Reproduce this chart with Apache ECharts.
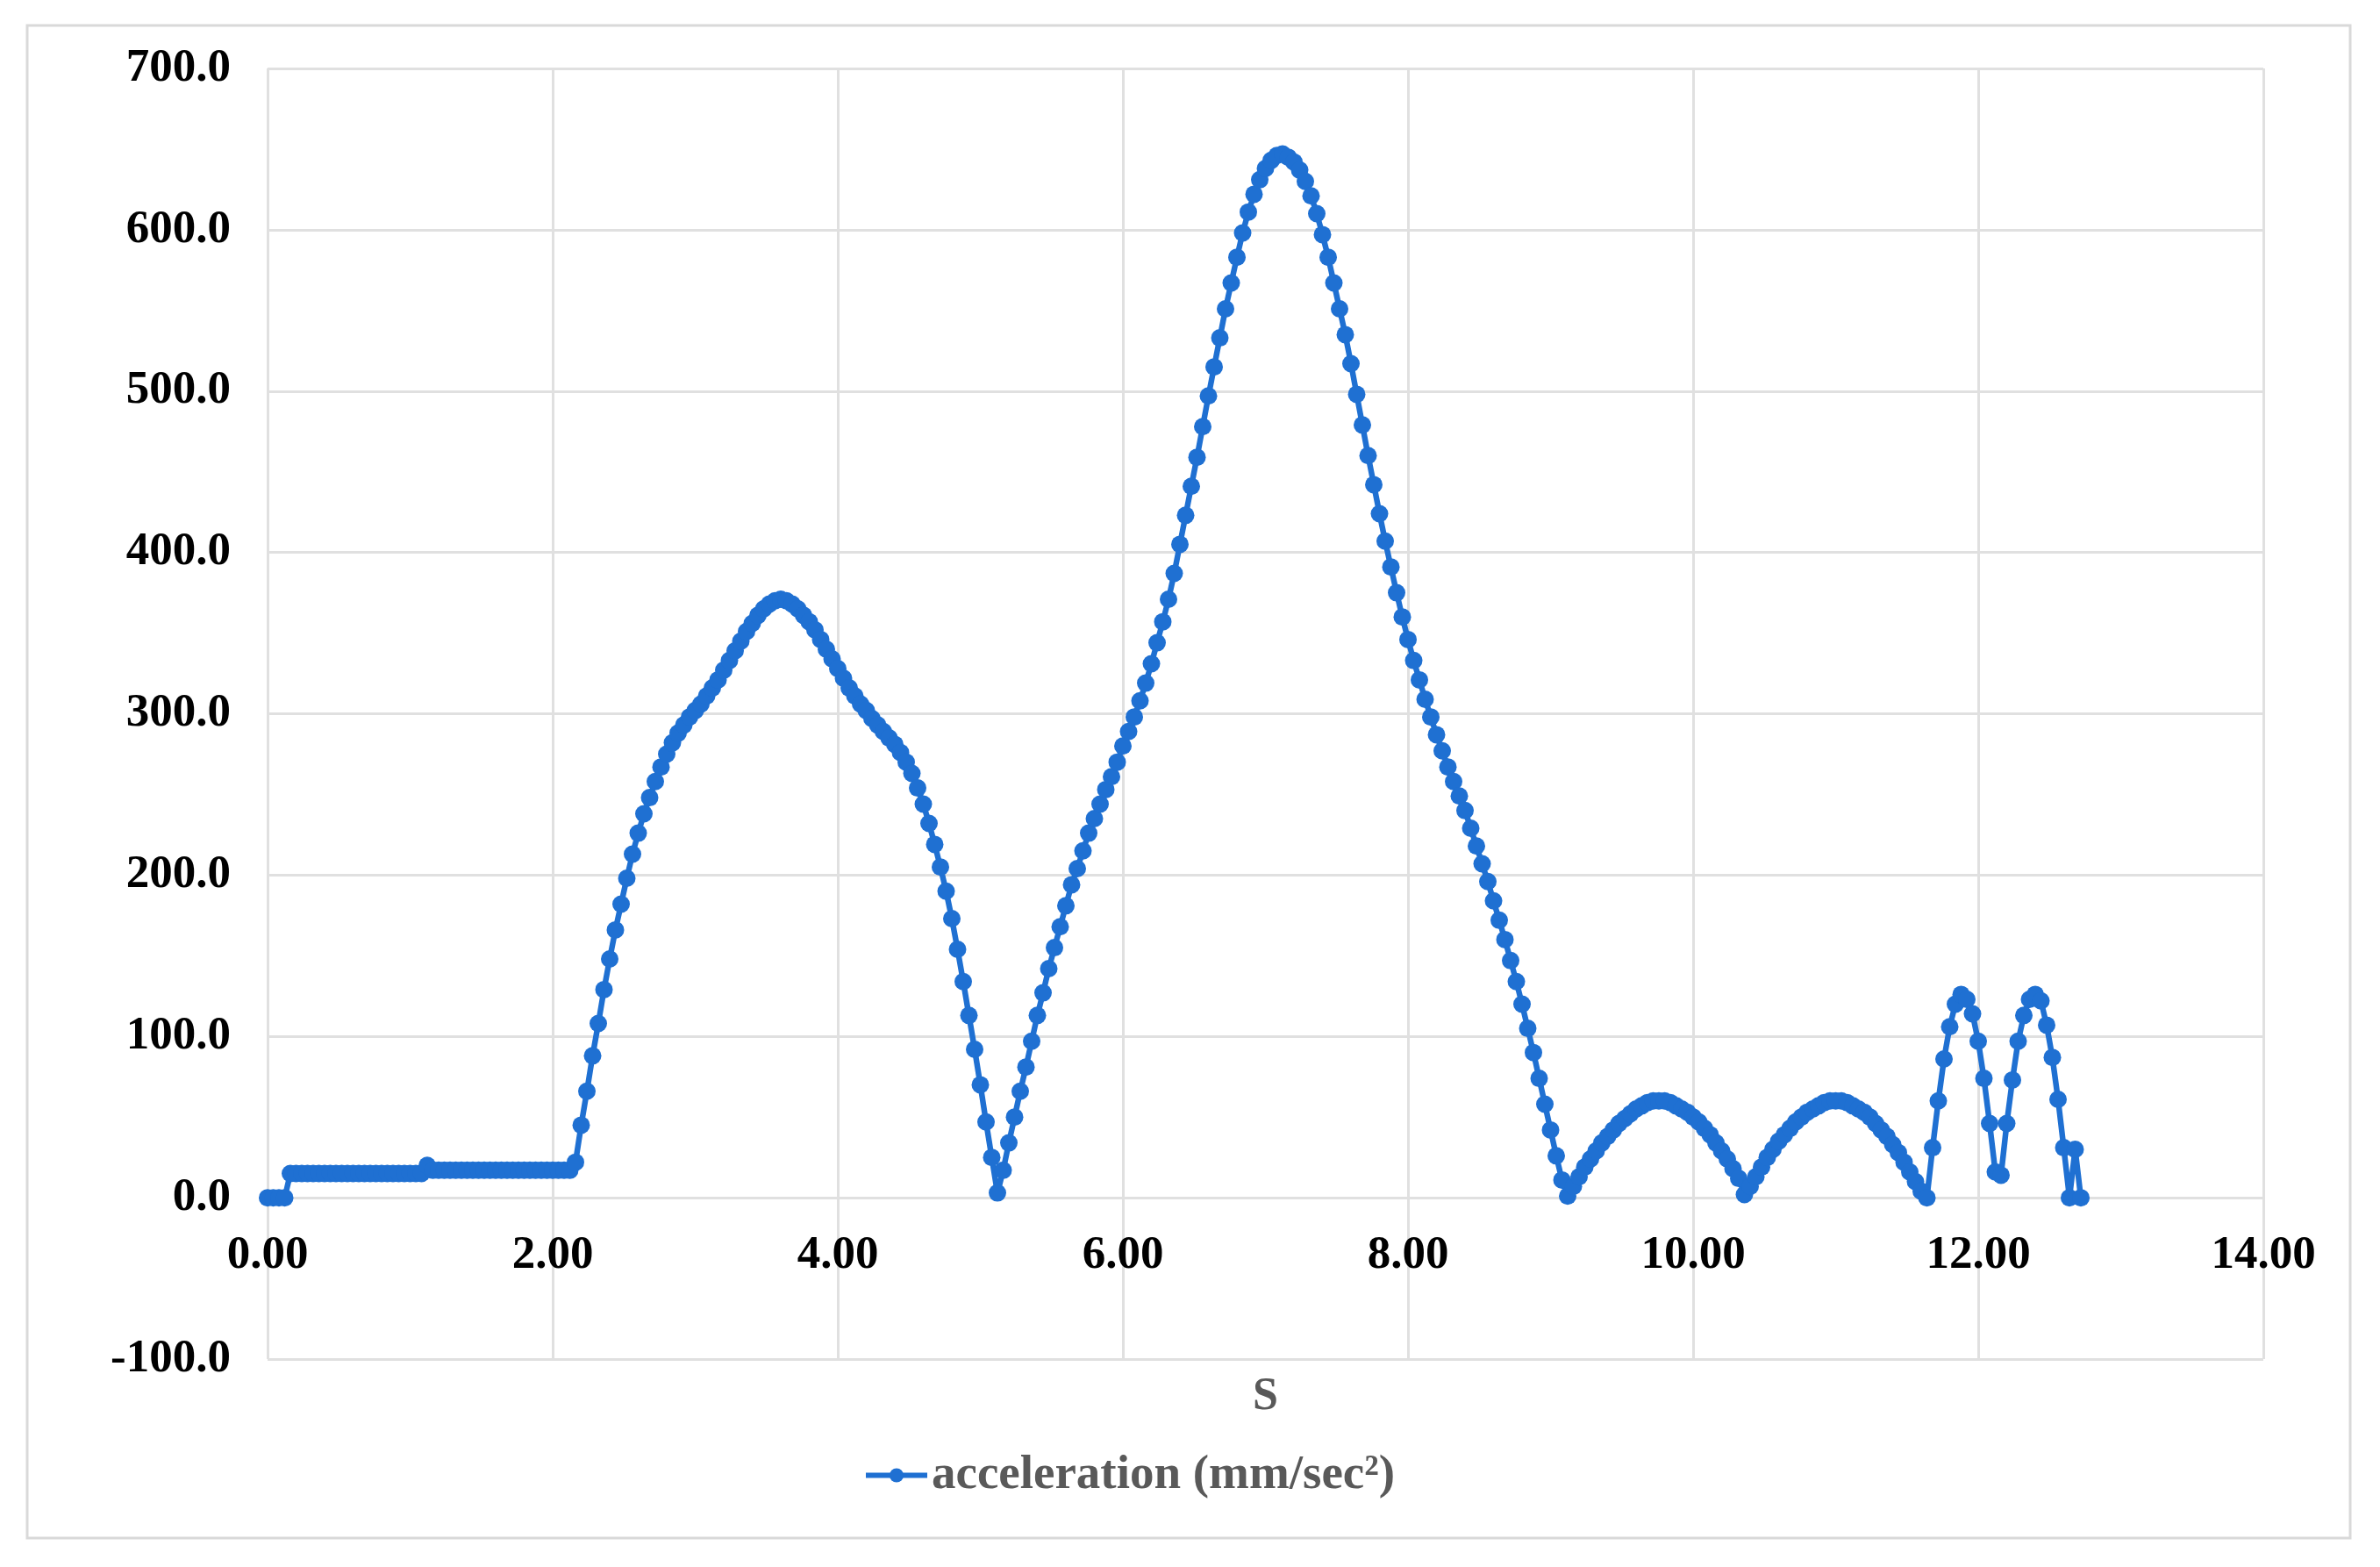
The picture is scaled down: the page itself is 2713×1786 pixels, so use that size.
<!DOCTYPE html>
<html>
<head>
<meta charset="utf-8">
<title>acceleration</title>
<script src="https://cdn.jsdelivr.net/npm/echarts@6/dist/echarts.min.js"></script>
<style>
  html, body { margin: 0; padding: 0; background: #fff; }
  #chart { width: 2713px; height: 1786px; }
</style>
</head>
<body>
<div id="chart"></div>
<script>
// samples every 0.04 s
const STEP = 0.04;

// 0.00 .. 2.12 s
const flatStart = [
  0, 0, 0, 0,
  15, 15, 15, 15, 15, 15, 15, 15, 15, 15, 15, 15,
  15, 15, 15, 15, 15, 15, 15, 15, 15, 15, 15, 15,
  20,
  17, 17, 17, 17, 17, 17, 17, 17, 17, 17, 17, 17, 17,
  17, 17, 17, 17, 17, 17, 17, 17, 17, 17, 17, 17,
];

// 2.16 .. 5.12 s
const firstHump = [
  22, 45, 66, 88, 108, 129, 148, 166, 182, 198, 213, 226, 238, 248,
  258, 267, 275, 282, 288, 293, 298, 302, 306, 311, 316, 321, 327, 333,
  339, 345, 351, 356, 361, 365, 368, 370, 371, 370, 368, 365, 361, 357,
  352, 346, 340, 334, 328, 322, 316, 311, 306, 302, 297, 293, 289, 285,
  281, 276, 270, 263, 254, 244, 232, 219, 205, 190, 173, 154, 134, 113,
  92, 70, 47, 25, 3,
];

// 5.16 .. 9.08 s
const secondHump = [
  17, 34, 50, 66, 81, 97, 113, 127, 142, 155, 168, 181, 194, 204,
  215, 226, 235, 244, 253, 261, 270, 280, 289, 298, 308, 319, 331, 344,
  357, 371, 387, 405, 423, 441, 459, 478, 497, 515, 533, 551, 567, 583,
  598, 611, 622, 631, 638, 643, 646, 647, 645, 642, 637, 630, 621, 610,
  597, 583, 567, 551, 535, 517, 498, 479, 460, 442, 424, 407, 391, 375,
  360, 346, 333, 321, 309, 298, 287, 277, 267, 258, 249, 240, 229, 218,
  207, 196, 184, 172, 160, 147, 134, 120, 105, 90, 74, 58, 42, 26, 11,
];

// 9.12 .. 11.64 s
const lowArcs = [
  1, 7, 13, 19, 24, 29, 34, 38, 42, 46, 49, 52, 55, 57, 59, 60, 60, 60,
  59, 57, 55, 53, 50, 47, 43, 39, 34, 29, 24, 18, 12, 2,
  7, 13, 19, 25, 30, 35, 39, 43, 47, 50, 53, 55, 57, 59, 60, 60, 60,
  59, 57, 55, 53, 50, 46, 42, 38, 33, 28, 22, 16, 10, 4, 0,
];

// 11.68 .. 12.72 s
const endBursts = [
  31, 60, 86, 106, 120, 126, 123, 114, 97, 74, 46, 16, 14, 46,
  73, 97, 113, 123, 126, 122, 107, 87, 61, 31, 0, 30, 0,
];

const segments = [
  { start: 0.0, values: flatStart },
  { start: 2.16, values: firstHump },
  { start: 5.16, values: secondHump },
  { start: 9.12, values: lowArcs },
  { start: 11.68, values: endBursts },
];

const xTicks = { min: 0, max: 14, interval: 2 };
const yTicks = { min: -100, max: 700, interval: 100 };

const points = [];
segments.forEach((seg) => {
  seg.values.forEach((v, i) => {
    points.push([+(seg.start + i * STEP).toFixed(2), v]);
  });
});

const BLUE = "#1f70d2";
const GRID = "#e0e0e0";
const SERIF = "'Liberation Serif', 'Times New Roman', serif";

// the horizontal axis sits on y = 0, not on the bottom of the plot
const GRID_TOP = 78;
const GRID_BOTTOM_PX = 1549;
const zeroOffset = -Math.round(
  (GRID_BOTTOM_PX - GRID_TOP) * (0 - yTicks.min) / (yTicks.max - yTicks.min)
);

const chart = echarts.init(document.getElementById("chart"));
chart.setOption({
  animation: false,
  backgroundColor: "#ffffff",
  graphic: [
    {
      type: "rect",
      shape: { x: 31, y: 29, width: 2648, height: 1724 },
      style: { fill: "none", stroke: "#d9d9d9", lineWidth: 3 },
      silent: true,
    },
  ],
  grid: { left: 305, right: 133, top: GRID_TOP, bottom: 1786 - GRID_BOTTOM_PX },
  legend: {
    left: 979,
    top: 1649,
    itemWidth: 70,
    itemHeight: 20,
    lineStyle: { width: 6 },
    textStyle: { fontFamily: SERIF, fontWeight: "bold", fontSize: 55, color: "#595959" },
    data: ["acceleration (mm/sec²)"],
  },
  xAxis: {
    type: "value",
    min: xTicks.min,
    max: xTicks.max,
    interval: xTicks.interval,
    offset: zeroOffset,
    name: "S",
    nameLocation: "middle",
    nameGap: 202,
    nameTextStyle: { fontFamily: SERIF, fontWeight: "bold", fontSize: 52, color: "#595959" },
    axisLine: { show: false, onZero: false },
    axisTick: { show: false },
    axisLabel: {
      margin: 40,
      fontFamily: SERIF,
      fontWeight: "bold",
      fontSize: 53,
      color: "#000",
      formatter: (v) => v.toFixed(2),
    },
    splitLine: { show: true, lineStyle: { color: GRID, width: 3 } },
  },
  yAxis: {
    type: "value",
    min: yTicks.min,
    max: yTicks.max,
    interval: yTicks.interval,
    axisLine: { show: false },
    axisTick: { show: false },
    axisLabel: {
      margin: 42,
      fontFamily: SERIF,
      fontWeight: "bold",
      fontSize: 53,
      color: "#000",
      formatter: (v) => v.toFixed(1),
    },
    splitLine: { show: true, lineStyle: { color: GRID, width: 3 } },
  },
  series: [
    {
      name: "acceleration (mm/sec²)",
      type: "line",
      data: points,
      symbol: "circle",
      symbolSize: 20,
      showSymbol: true,
      lineStyle: { color: BLUE, width: 6.5 },
      itemStyle: { color: BLUE },
    },
  ],
});
</script>
</body>
</html>
